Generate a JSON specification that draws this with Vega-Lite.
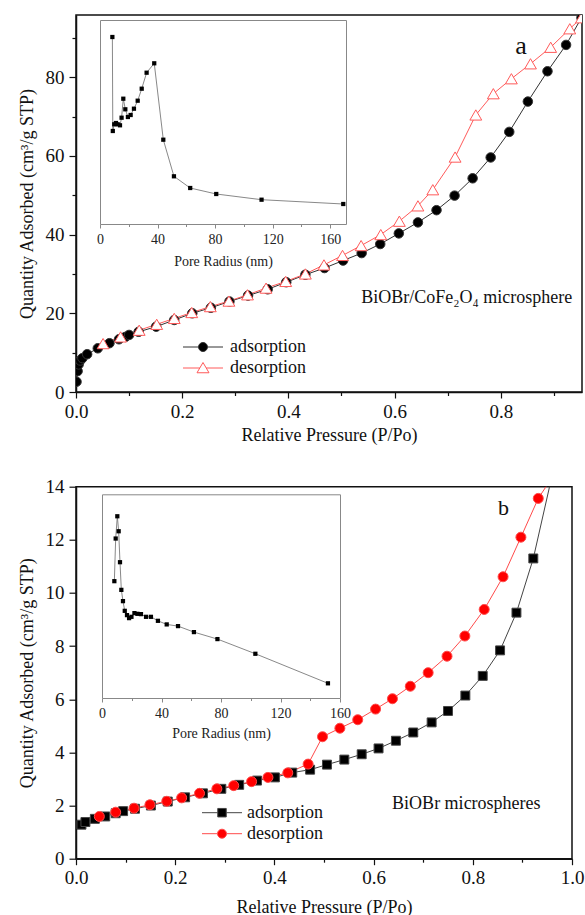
{
  "$schema": "https://vega.github.io/schema/vega-lite/v6.json",
  "padding": {"left": 17, "top": 14, "right": 0, "bottom": 0},
  "spacing": 30.7,
  "resolve": {
    "scale": {"stroke": "independent", "fill": "independent", "shape": "independent", "size": "independent"},
    "legend": {"stroke": "independent", "fill": "independent", "shape": "independent", "size": "independent"}
  },
  "config": {
    "font": "Liberation Serif, DejaVu Serif, serif",
    "view": {"stroke": "#111111", "strokeWidth": 1.5},
    "axis": {
      "grid": false,
      "domainColor": "#111111",
      "domainWidth": 1.5,
      "tickColor": "#111111",
      "tickWidth": 1.2,
      "labelFont": "Liberation Serif, DejaVu Serif, serif",
      "titleFont": "Liberation Serif, DejaVu Serif, serif",
      "labelColor": "#111111",
      "titleColor": "#111111",
      "labelFontSize": 19,
      "titleFontSize": 18,
      "titleFontWeight": "normal",
      "labelOverlap": false,
      "labelFlush": false
    },
    "legend": {"labelFont": "Liberation Serif, DejaVu Serif, serif", "labelFontSize": 18, "labelColor": "#111111"},
    "text": {"font": "Liberation Serif, DejaVu Serif, serif", "color": "#111111"}
  },
  "datasets": {
    "isoA": [
      {"p": 0.001, "q": 2.6, "s": "adsorption"},
      {"p": 0.003, "q": 5.3, "s": "adsorption"},
      {"p": 0.005, "q": 7.0, "s": "adsorption"},
      {"p": 0.008, "q": 8.0, "s": "adsorption"},
      {"p": 0.012, "q": 8.6, "s": "adsorption"},
      {"p": 0.021, "q": 9.6, "s": "adsorption"},
      {"p": 0.041, "q": 11.1, "s": "adsorption"},
      {"p": 0.063, "q": 12.4, "s": "adsorption"},
      {"p": 0.081, "q": 13.4, "s": "adsorption"},
      {"p": 0.093, "q": 14.0, "s": "adsorption"},
      {"p": 0.1, "q": 14.5, "s": "adsorption"},
      {"p": 0.118, "q": 15.3, "s": "adsorption"},
      {"p": 0.151, "q": 16.6, "s": "adsorption"},
      {"p": 0.185, "q": 18.3, "s": "adsorption"},
      {"p": 0.219, "q": 20.0, "s": "adsorption"},
      {"p": 0.254, "q": 21.4, "s": "adsorption"},
      {"p": 0.289, "q": 23.0, "s": "adsorption"},
      {"p": 0.324, "q": 24.5, "s": "adsorption"},
      {"p": 0.361, "q": 26.1, "s": "adsorption"},
      {"p": 0.396, "q": 27.9, "s": "adsorption"},
      {"p": 0.432, "q": 29.8, "s": "adsorption"},
      {"p": 0.468, "q": 31.5, "s": "adsorption"},
      {"p": 0.503, "q": 33.4, "s": "adsorption"},
      {"p": 0.538, "q": 35.3, "s": "adsorption"},
      {"p": 0.573, "q": 37.6, "s": "adsorption"},
      {"p": 0.608, "q": 40.3, "s": "adsorption"},
      {"p": 0.644, "q": 43.1, "s": "adsorption"},
      {"p": 0.679, "q": 46.2, "s": "adsorption"},
      {"p": 0.713, "q": 49.9, "s": "adsorption"},
      {"p": 0.747, "q": 54.3, "s": "adsorption"},
      {"p": 0.781, "q": 59.6, "s": "adsorption"},
      {"p": 0.816, "q": 66.1, "s": "adsorption"},
      {"p": 0.851, "q": 73.8, "s": "adsorption"},
      {"p": 0.888, "q": 81.5, "s": "adsorption"},
      {"p": 0.923, "q": 88.2, "s": "adsorption"},
      {"p": 0.952, "q": 95.1, "s": "adsorption"},
      {"p": 0.051, "q": 12.3, "s": "desorption"},
      {"p": 0.084, "q": 14.0, "s": "desorption"},
      {"p": 0.119, "q": 15.7, "s": "desorption"},
      {"p": 0.152, "q": 17.2, "s": "desorption"},
      {"p": 0.185, "q": 18.7, "s": "desorption"},
      {"p": 0.218, "q": 20.2, "s": "desorption"},
      {"p": 0.253, "q": 21.7, "s": "desorption"},
      {"p": 0.288, "q": 23.1, "s": "desorption"},
      {"p": 0.323, "q": 24.7, "s": "desorption"},
      {"p": 0.358, "q": 26.4, "s": "desorption"},
      {"p": 0.395, "q": 28.1, "s": "desorption"},
      {"p": 0.432, "q": 30.0, "s": "desorption"},
      {"p": 0.467, "q": 32.3, "s": "desorption"},
      {"p": 0.502, "q": 34.7, "s": "desorption"},
      {"p": 0.537, "q": 37.2, "s": "desorption"},
      {"p": 0.574, "q": 40.0, "s": "desorption"},
      {"p": 0.609, "q": 43.4, "s": "desorption"},
      {"p": 0.644, "q": 47.3, "s": "desorption"},
      {"p": 0.672, "q": 51.4, "s": "desorption"},
      {"p": 0.714, "q": 59.7, "s": "desorption"},
      {"p": 0.753, "q": 70.4, "s": "desorption"},
      {"p": 0.786, "q": 75.8, "s": "desorption"},
      {"p": 0.82, "q": 79.6, "s": "desorption"},
      {"p": 0.856, "q": 83.4, "s": "desorption"},
      {"p": 0.894, "q": 87.6, "s": "desorption"},
      {"p": 0.93, "q": 92.3, "s": "desorption"},
      {"p": 0.952, "q": 95.1, "s": "desorption"}
    ],
    "poreA": [
      {"r": 8.6, "v": 187},
      {"r": 8.9, "v": 93},
      {"r": 9.9, "v": 99.7},
      {"r": 11.1, "v": 101},
      {"r": 12.3, "v": 99.7},
      {"r": 13.9, "v": 98.7},
      {"r": 15.0, "v": 106.3},
      {"r": 16.2, "v": 125.3},
      {"r": 17.6, "v": 114.7},
      {"r": 19.4, "v": 107},
      {"r": 21.3, "v": 109},
      {"r": 23.6, "v": 115.3},
      {"r": 26.2, "v": 123.3},
      {"r": 29.0, "v": 135.3},
      {"r": 32.4, "v": 151.3},
      {"r": 37.7, "v": 160.7},
      {"r": 44.0, "v": 84.3},
      {"r": 51.4, "v": 47.7},
      {"r": 62.7, "v": 36},
      {"r": 80.8, "v": 30},
      {"r": 112.3, "v": 24.3},
      {"r": 169.1, "v": 20}
    ],
    "isoB": [
      {"p": 0.011, "q": 1.28, "s": "adsorption"},
      {"p": 0.019, "q": 1.38, "s": "adsorption"},
      {"p": 0.038, "q": 1.5, "s": "adsorption"},
      {"p": 0.059, "q": 1.59, "s": "adsorption"},
      {"p": 0.08, "q": 1.71, "s": "adsorption"},
      {"p": 0.095, "q": 1.79, "s": "adsorption"},
      {"p": 0.119, "q": 1.88, "s": "adsorption"},
      {"p": 0.151, "q": 2.0, "s": "adsorption"},
      {"p": 0.185, "q": 2.15, "s": "adsorption"},
      {"p": 0.22, "q": 2.31, "s": "adsorption"},
      {"p": 0.256, "q": 2.46, "s": "adsorption"},
      {"p": 0.293, "q": 2.63, "s": "adsorption"},
      {"p": 0.329, "q": 2.78, "s": "adsorption"},
      {"p": 0.365, "q": 2.94, "s": "adsorption"},
      {"p": 0.401, "q": 3.06, "s": "adsorption"},
      {"p": 0.436, "q": 3.24, "s": "adsorption"},
      {"p": 0.472, "q": 3.35, "s": "adsorption"},
      {"p": 0.506, "q": 3.54, "s": "adsorption"},
      {"p": 0.541, "q": 3.73, "s": "adsorption"},
      {"p": 0.576, "q": 3.93, "s": "adsorption"},
      {"p": 0.61, "q": 4.15, "s": "adsorption"},
      {"p": 0.645, "q": 4.44, "s": "adsorption"},
      {"p": 0.68, "q": 4.75, "s": "adsorption"},
      {"p": 0.717, "q": 5.13, "s": "adsorption"},
      {"p": 0.75, "q": 5.56, "s": "adsorption"},
      {"p": 0.785, "q": 6.14, "s": "adsorption"},
      {"p": 0.82, "q": 6.88, "s": "adsorption"},
      {"p": 0.855, "q": 7.84, "s": "adsorption"},
      {"p": 0.888, "q": 9.26, "s": "adsorption"},
      {"p": 0.922, "q": 11.3, "s": "adsorption"},
      {"p": 0.962, "q": 14.6, "s": "adsorption"},
      {"p": 0.047, "q": 1.59, "s": "desorption"},
      {"p": 0.08, "q": 1.75, "s": "desorption"},
      {"p": 0.117, "q": 1.9, "s": "desorption"},
      {"p": 0.149, "q": 2.03, "s": "desorption"},
      {"p": 0.183, "q": 2.16, "s": "desorption"},
      {"p": 0.213, "q": 2.29, "s": "desorption"},
      {"p": 0.249, "q": 2.46, "s": "desorption"},
      {"p": 0.284, "q": 2.63, "s": "desorption"},
      {"p": 0.318, "q": 2.75, "s": "desorption"},
      {"p": 0.354, "q": 2.9, "s": "desorption"},
      {"p": 0.387, "q": 3.06, "s": "desorption"},
      {"p": 0.427, "q": 3.23, "s": "desorption"},
      {"p": 0.468, "q": 3.56, "s": "desorption"},
      {"p": 0.497, "q": 4.59, "s": "desorption"},
      {"p": 0.532, "q": 4.91, "s": "desorption"},
      {"p": 0.568, "q": 5.23, "s": "desorption"},
      {"p": 0.604, "q": 5.63, "s": "desorption"},
      {"p": 0.638, "q": 6.02, "s": "desorption"},
      {"p": 0.674, "q": 6.49, "s": "desorption"},
      {"p": 0.71, "q": 7.0, "s": "desorption"},
      {"p": 0.748, "q": 7.62, "s": "desorption"},
      {"p": 0.784, "q": 8.38, "s": "desorption"},
      {"p": 0.823, "q": 9.38, "s": "desorption"},
      {"p": 0.861, "q": 10.61, "s": "desorption"},
      {"p": 0.897, "q": 12.1, "s": "desorption"},
      {"p": 0.932, "q": 13.56, "s": "desorption"},
      {"p": 0.96, "q": 14.35, "s": "desorption"}
    ],
    "poreB": [
      {"r": 8.3, "v": 117},
      {"r": 9.2, "v": 159.7},
      {"r": 10.3, "v": 182},
      {"r": 11.2, "v": 167},
      {"r": 12.1, "v": 136},
      {"r": 13.0, "v": 108.3},
      {"r": 14.1, "v": 97},
      {"r": 15.3, "v": 87.3},
      {"r": 16.8, "v": 83},
      {"r": 18.2, "v": 80},
      {"r": 19.8, "v": 81.3},
      {"r": 21.8, "v": 85},
      {"r": 23.8, "v": 84.3},
      {"r": 26.2, "v": 84},
      {"r": 29.6, "v": 81.3},
      {"r": 32.9, "v": 81.3},
      {"r": 37.6, "v": 77.3},
      {"r": 43.5, "v": 73.7},
      {"r": 51.1, "v": 72},
      {"r": 61.8, "v": 66},
      {"r": 77.6, "v": 59},
      {"r": 103.1, "v": 44.3},
      {"r": 151.9, "v": 14.7}
    ]
  },
  "vconcat": [
    {
      "width": 506,
      "height": 377,
      "resolve": {"scale": {"x": "independent", "y": "independent"}},
      "layer": [
        {
          "layer": [
            {
              "data": {"name": "isoA"},
              "mark": {"type": "line", "strokeWidth": 1, "clip": true},
              "encoding": {
                "x": {
                  "field": "p", "type": "quantitative",
                  "scale": {"domain": [0, 0.953], "nice": false, "zero": false},
                  "axis": {
                    "orient": "bottom",
                    "values": [0, 0.1, 0.2, 0.3, 0.4, 0.5, 0.6, 0.7, 0.8, 0.9],
                    "labelExpr": "abs(datum.value*5 - round(datum.value*5)) < 0.001 ? format(datum.value, '.1f') : ''",
                    "tickSize": {"condition": {"test": "abs(datum.value*5 - round(datum.value*5)) < 0.001", "value": 6}, "value": 3.5},
                    "labelPadding": 4,
                    "titlePadding": 5.5,
                    "title": "Relative Pressure (P/Po)"
                  }
                },
                "y": {
                  "field": "q", "type": "quantitative",
                  "scale": {"domain": [0, 95.8], "nice": false, "zero": false},
                  "axis": {
                    "orient": "left",
                    "values": [0, 10, 20, 30, 40, 50, 60, 70, 80, 90],
                    "labelExpr": "datum.value % 20 === 0 ? format(datum.value, 'd') : ''",
                    "tickSize": {"condition": {"test": "datum.value % 20 === 0", "value": 7}, "value": 4},
                    "labelPadding": 5,
                    "titlePadding": 9,
                    "title": "Quantity Adsorbed (cm³/g STP)"
                  }
                },
                "stroke": {
                  "field": "s", "type": "nominal",
                  "scale": {"domain": ["adsorption", "desorption"], "range": ["#333333", "#ff5a5a"]}
                }
              }
            },
            {
              "data": {"name": "isoA"},
              "transform": [{"filter": "datum.s === 'adsorption'"}],
              "mark": {"type": "point", "shape": "circle", "size": 90, "strokeWidth": 1, "opacity": 1, "clip": true},
              "encoding": {
                "x": {"field": "p", "type": "quantitative"},
                "y": {"field": "q", "type": "quantitative"},
                "stroke": {
                  "field": "s", "type": "nominal",
                  "legend": {
                    "orient": "none", "legendX": 118, "legendY": 323, "title": null,
                    "symbolSize": 100, "labelOffset": 18, "rowPadding": 3, "padding": 0,
                    "symbolStrokeWidth": 1,
                    "symbolType": {"expr": "datum.value === 'adsorption' ? 'M-4,0L-0.9,0M0.9,0L4,0M-0.9,0A0.9,0.9,0,1,0,0.9,0A0.9,0.9,0,1,0,-0.9,0Z' : 'M-4,0L-0.64,0M0.64,0L4,0M0,-1.1L1.2,0.95L-1.2,0.95Z'"}
                  }
                },
                "fill": {
                  "field": "s", "type": "nominal",
                  "scale": {"domain": ["adsorption", "desorption"], "range": ["#000000", "#ffffff"]},
                  "legend": {
                    "orient": "none", "legendX": 118, "legendY": 323, "title": null,
                    "symbolSize": 100, "labelOffset": 18, "rowPadding": 3, "padding": 0,
                    "symbolStrokeWidth": 1,
                    "symbolType": {"expr": "datum.value === 'adsorption' ? 'M-4,0L-0.9,0M0.9,0L4,0M-0.9,0A0.9,0.9,0,1,0,0.9,0A0.9,0.9,0,1,0,-0.9,0Z' : 'M-4,0L-0.64,0M0.64,0L4,0M0,-1.1L1.2,0.95L-1.2,0.95Z'"}
                  }
                }
              }
            },
            {
              "data": {"name": "isoA"},
              "transform": [{"filter": "datum.s === 'desorption'"}],
              "mark": {"type": "point", "shape": "triangle-up", "size": 140, "strokeWidth": 1, "opacity": 1, "clip": true},
              "encoding": {
                "x": {"field": "p", "type": "quantitative"},
                "y": {"field": "q", "type": "quantitative"},
                "stroke": {"field": "s", "type": "nominal"},
                "fill": {"field": "s", "type": "nominal"}
              }
            },
            {
              "data": {"values": [{"label": "a"}]},
              "mark": {"type": "text", "fontSize": 26, "baseline": "middle", "align": "center"},
              "encoding": {
                "x": {"datum": 0.838, "type": "quantitative"},
                "y": {"datum": 88.0, "type": "quantitative"},
                "text": {"field": "label"}
              }
            },
            {
              "data": {"values": [{"label": "BiOBr/CoFe₂O₄ microsphere"}]},
              "mark": {"type": "text", "fontSize": 18, "baseline": "middle", "align": "center"},
              "encoding": {
                "x": {"datum": 0.736, "type": "quantitative"},
                "y": {"datum": 23.8, "type": "quantitative"},
                "text": {"field": "label"}
              }
            }
          ]
        },
        {
          "data": {"name": "poreA"},
          "mark": {"type": "line", "color": "#7a7a7a", "strokeWidth": 0.9},
          "encoding": {
            "x": {
              "field": "r", "type": "quantitative",
              "scale": {"domain": [0, 171], "range": [24, 270], "nice": false, "zero": false},
              "axis": {
                "orient": "bottom", "offset": -168,
                "values": [0, 20, 40, 60, 80, 100, 120, 140, 160],
                "labelExpr": "datum.value % 40 === 0 ? format(datum.value, 'd') : ''",
                "tickSize": {"condition": {"test": "datum.value % 40 === 0", "value": 4}, "value": 2.5},
                "domainColor": "#888888", "domainWidth": 1, "tickColor": "#888888", "tickWidth": 1,
                "labelFontSize": 14, "titleFontSize": 14, "labelPadding": 4, "titlePadding": 8,
                "labelColor": "#222222", "titleColor": "#222222",
                "title": "Pore Radius (nm)"
              }
            },
            "y": {
              "field": "v", "type": "quantitative",
              "scale": {"domain": [0, 204], "range": [209, 5], "nice": false, "zero": false},
              "axis": {"orient": "left", "offset": -24, "ticks": false, "labels": false, "title": null, "domainColor": "#888888", "domainWidth": 1}
            }
          }
        },
        {
          "data": {"name": "poreA"},
          "mark": {"type": "square", "color": "#000000", "size": 18, "opacity": 1},
          "encoding": {
            "x": {
              "field": "r", "type": "quantitative",
              "scale": {"domain": [0, 171], "range": [24, 270], "nice": false, "zero": false},
              "axis": {"orient": "top", "offset": -5, "ticks": false, "labels": false, "title": null, "domainColor": "#888888", "domainWidth": 1}
            },
            "y": {
              "field": "v", "type": "quantitative",
              "scale": {"domain": [0, 204], "range": [209, 5], "nice": false, "zero": false},
              "axis": {"orient": "right", "offset": -236, "ticks": false, "labels": false, "title": null, "domainColor": "#888888", "domainWidth": 1}
            }
          }
        }
      ]
    },
    {
      "width": 496,
      "height": 372,
      "resolve": {"scale": {"x": "independent", "y": "independent"}},
      "layer": [
        {
          "layer": [
            {
              "data": {"name": "isoB"},
              "mark": {"type": "line", "strokeWidth": 1, "clip": true},
              "encoding": {
                "x": {
                  "field": "p", "type": "quantitative",
                  "scale": {"domain": [0, 1], "nice": false, "zero": false},
                  "axis": {
                    "orient": "bottom",
                    "values": [0, 0.1, 0.2, 0.3, 0.4, 0.5, 0.6, 0.7, 0.8, 0.9, 1.0],
                    "labelExpr": "abs(datum.value*5 - round(datum.value*5)) < 0.001 ? format(datum.value, '.1f') : ''",
                    "tickSize": {"condition": {"test": "abs(datum.value*5 - round(datum.value*5)) < 0.001", "value": 6}, "value": 3.5},
                    "labelPadding": 4,
                    "titlePadding": 10.5,
                    "title": "Relative Pressure (P/Po)"
                  }
                },
                "y": {
                  "field": "q", "type": "quantitative",
                  "scale": {"domain": [0, 14], "nice": false, "zero": false},
                  "axis": {
                    "orient": "left",
                    "values": [0, 1, 2, 3, 4, 5, 6, 7, 8, 9, 10, 11, 12, 13, 14],
                    "labelExpr": "datum.value % 2 === 0 ? format(datum.value, 'd') : ''",
                    "tickSize": {"condition": {"test": "datum.value % 2 === 0", "value": 7}, "value": 4},
                    "labelPadding": 5,
                    "titlePadding": 9,
                    "title": "Quantity Adsorbed (cm³/g STP)"
                  }
                },
                "stroke": {
                  "field": "s", "type": "nominal",
                  "scale": {"domain": ["adsorption", "desorption"], "range": ["#444444", "#ff4a4a"]}
                }
              }
            },
            {
              "data": {"name": "isoB"},
              "transform": [{"filter": "datum.s === 'adsorption' && datum.q <= 14"}],
              "mark": {"type": "point", "shape": "square", "size": 80, "strokeWidth": 1, "opacity": 1},
              "encoding": {
                "x": {"field": "p", "type": "quantitative"},
                "y": {"field": "q", "type": "quantitative"},
                "stroke": {
                  "field": "s", "type": "nominal",
                  "legend": {
                    "orient": "none", "legendX": 137, "legendY": 317, "title": null,
                    "symbolSize": 100, "labelOffset": 16, "rowPadding": 3, "padding": 0,
                    "symbolStrokeWidth": 1,
                    "symbolType": {"expr": "datum.value === 'adsorption' ? 'M-4,0L-0.85,0M0.85,0L4,0M-0.85,-0.85L0.85,-0.85L0.85,0.85L-0.85,0.85Z' : 'M-4,0L-0.9,0M0.9,0L4,0M-0.9,0A0.9,0.9,0,1,0,0.9,0A0.9,0.9,0,1,0,-0.9,0Z'"}
                  }
                },
                "fill": {
                  "field": "s", "type": "nominal",
                  "scale": {"domain": ["adsorption", "desorption"], "range": ["#000000", "#ff0000"]},
                  "legend": {
                    "orient": "none", "legendX": 137, "legendY": 317, "title": null,
                    "symbolSize": 100, "labelOffset": 16, "rowPadding": 3, "padding": 0,
                    "symbolStrokeWidth": 1,
                    "symbolType": {"expr": "datum.value === 'adsorption' ? 'M-4,0L-0.85,0M0.85,0L4,0M-0.85,-0.85L0.85,-0.85L0.85,0.85L-0.85,0.85Z' : 'M-4,0L-0.9,0M0.9,0L4,0M-0.9,0A0.9,0.9,0,1,0,0.9,0A0.9,0.9,0,1,0,-0.9,0Z'"}
                  }
                }
              }
            },
            {
              "data": {"name": "isoB"},
              "transform": [{"filter": "datum.s === 'desorption' && datum.q <= 14"}],
              "mark": {"type": "point", "shape": "circle", "size": 100, "strokeWidth": 1, "opacity": 1},
              "encoding": {
                "x": {"field": "p", "type": "quantitative"},
                "y": {"field": "q", "type": "quantitative"},
                "stroke": {"field": "s", "type": "nominal"},
                "fill": {"field": "s", "type": "nominal"}
              }
            },
            {
              "data": {"values": [{"label": "b"}]},
              "mark": {"type": "text", "fontSize": 22, "baseline": "middle", "align": "center"},
              "encoding": {
                "x": {"datum": 0.862, "type": "quantitative"},
                "y": {"datum": 13.19, "type": "quantitative"},
                "text": {"field": "label"}
              }
            },
            {
              "data": {"values": [{"label": "BiOBr microspheres"}]},
              "mark": {"type": "text", "fontSize": 18, "baseline": "middle", "align": "center"},
              "encoding": {
                "x": {"datum": 0.787, "type": "quantitative"},
                "y": {"datum": 2.06, "type": "quantitative"},
                "text": {"field": "label"}
              }
            }
          ]
        },
        {
          "data": {"name": "poreB"},
          "mark": {"type": "line", "color": "#7a7a7a", "strokeWidth": 0.9},
          "encoding": {
            "x": {
              "field": "r", "type": "quantitative",
              "scale": {"domain": [0, 160], "range": [26, 264], "nice": false, "zero": false},
              "axis": {
                "orient": "bottom", "offset": -160.7,
                "values": [0, 20, 40, 60, 80, 100, 120, 140, 160],
                "labelExpr": "datum.value % 40 === 0 ? format(datum.value, 'd') : ''",
                "tickSize": {"condition": {"test": "datum.value % 40 === 0", "value": 4}, "value": 2.5},
                "domainColor": "#888888", "domainWidth": 1, "tickColor": "#888888", "tickWidth": 1,
                "labelFontSize": 14, "titleFontSize": 14, "labelPadding": 4, "titlePadding": 6,
                "labelColor": "#222222", "titleColor": "#222222",
                "title": "Pore Radius (nm)"
              }
            },
            "y": {
              "field": "v", "type": "quantitative",
              "scale": {"domain": [0, 204], "range": [211.3, 7.6], "nice": false, "zero": false},
              "axis": {"orient": "left", "offset": -26, "ticks": false, "labels": false, "title": null, "domainColor": "#888888", "domainWidth": 1}
            }
          }
        },
        {
          "data": {"name": "poreB"},
          "mark": {"type": "square", "color": "#000000", "size": 18, "opacity": 1},
          "encoding": {
            "x": {
              "field": "r", "type": "quantitative",
              "scale": {"domain": [0, 160], "range": [26, 264], "nice": false, "zero": false},
              "axis": {"orient": "top", "offset": -7.6, "ticks": false, "labels": false, "title": null, "domainColor": "#888888", "domainWidth": 1}
            },
            "y": {
              "field": "v", "type": "quantitative",
              "scale": {"domain": [0, 204], "range": [211.3, 7.6], "nice": false, "zero": false},
              "axis": {"orient": "right", "offset": -232, "ticks": false, "labels": false, "title": null, "domainColor": "#888888", "domainWidth": 1}
            }
          }
        }
      ]
    }
  ]
}
